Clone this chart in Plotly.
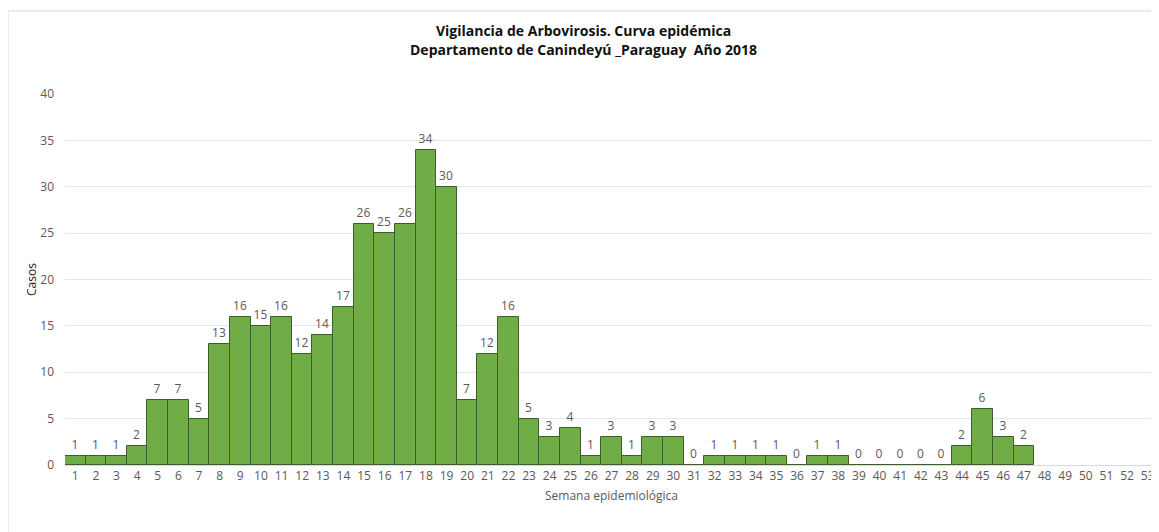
import plotly.graph_objects as go

weeks = [str(i) for i in range(1, 54)]
cases = [1, 1, 1, 2, 7, 7, 5, 13, 16, 15, 16, 12, 14, 17, 26, 25, 26, 34, 30, 7,
         12, 16, 5, 3, 4, 1, 3, 1, 3, 3, 0, 1, 1, 1, 1, 0, 1, 1, 0, 0,
         0, 0, 0, 2, 6, 3, 2, None, None, None, None, None, None]
y_ticks = [0, 5, 10, 15, 20, 25, 30, 35, 40]

FONT = "Open Sans"
GREY = "#595959"

# the page body has an 8px margin, so the figure is sized to fit the window
W, H = 1151, 524
L, R, T, B = 57, 1, 86, 67

fig = go.Figure()
fig.add_trace(go.Bar(
    x=weeks, y=cases,
    marker=dict(color="#70AD47", line=dict(color="#3B5E2A", width=1)),
    text=[("" if v is None else str(v)) for v in cases],
    textposition="outside", cliponaxis=False,
    textfont=dict(family=FONT, size=12, color=GREY),
    width=1.0,
))

fig.update_layout(
    width=W, height=H,
    margin=dict(l=L, r=R, t=T, b=B, autoexpand=False),
    paper_bgcolor="white", plot_bgcolor="white",
    bargap=0,
    showlegend=False,
    title=dict(
        text="<b>Vigilancia de Arbovirosis. Curva epidémica<br>Departamento de Canindeyú _Paraguay  Año 2018</b>",
        x=0.5, xanchor="center", y=0.965, yanchor="top", pad=dict(t=10),
        font=dict(family=FONT, size=14, color="#111111"),
    ),
    xaxis=dict(
        type="category", tickfont=dict(family=FONT, size=12, color=GREY),
        showgrid=False, ticks="", showline=True, linecolor="#D9D9D9",
        automargin=False,
        title=dict(text="Semana epidemiológica", font=dict(family=FONT, size=12, color=GREY), standoff=8),
    ),
    yaxis=dict(
        range=[0, 40], tickvals=y_ticks, tickfont=dict(family=FONT, size=12, color=GREY),
        showgrid=True, gridcolor="#E6E6E6", zeroline=False, ticks="",
        ticklabelstandoff=10, automargin=False,
        title=dict(text="Casos", font=dict(family=FONT, size=12, color="#222222"), standoff=0),
    ),
)

# light outer frame of the chart area
plot_w = W - L - R
plot_h = H - T - B
fig.add_shape(type="rect", xref="paper", yref="paper",
              x0=(0 - L) / plot_w, x1=1.01, y0=-0.2, y1=(H + 8 - 3 - 8 - B) / plot_h,
              line=dict(color="#D9D9D9", width=1), layer="below")

fig.write_html("out.html")
